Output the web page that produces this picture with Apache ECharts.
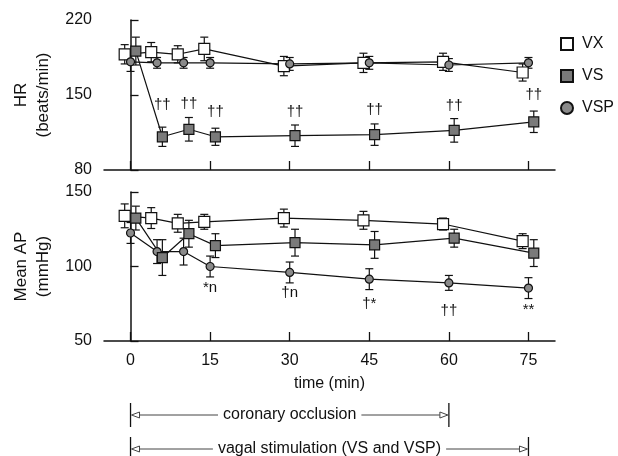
<!DOCTYPE html>
<html>
<head>
<meta charset="utf-8">
<script src="https://cdn.jsdelivr.net/npm/echarts@6/dist/echarts.min.js"></script>
<style>
html, body { margin: 0; padding: 0; background: #fff; }
#chart { width: 618px; height: 456px; }
</style>
</head>
<body>
<div id="chart"></div>
<script>
const times = [0, 5, 10, 15, 30, 45, 60, 75]
const xTicks = [0, 15, 30, 45, 60, 75]

// HR (beats/min), mean and error
const hrVX = [188, 190, 188, 193, 177, 180, 181, 171]
const hrVXErr = [9, 9, 8, 11, 9, 9, 8, 8]
const hrVS = [191, 111, 118, 111, 112, 113, 117, 125]
const hrVSErr = [13, 9, 11, 8, 10, 10, 11, 10]
const hrVSP = [181, 180, 180, 180, 179, 180, 178, 180]
const hrVSPErr = [9, 5, 5, 5, 6, 6, 6, 5]

// Mean AP (mmHg), mean and error
const apVX = [134, 132.5, 129, 130, 132.5, 131, 128.5, 117]
const apVXErr = [8, 7, 6, 5, 6, 6, 4, 5]
const apVS = [132.5, 106, 122, 114, 116, 114.5, 119, 109]
const apVSErr = [8, 12, 9, 8, 9, 9, 6, 9]
const apVSP = [122.5, 110, 110, 100, 96, 91.5, 89, 85.5]
const apVSPErr = [7, 8, 9, 7, 7, 7, 5, 7]

// significance marks
const hrMarkTimes = [5, 10, 15, 30, 45, 60, 75]
const hrMarkY = [141, 142, 134, 134, 136, 140, 150]
const hrMarks = ['††', '††', '††', '††', '††', '††', '††']
const apMarkTimes = [15, 30, 45, 60, 75]
const apMarkY = [86, 82, 75, 70, 71]
const apMarks = ['*n', '†n', '†*', '††', '**']

// protocol spans under the time axis
const spanStart = [0, 0]
const spanEnd = [60, 75]
const spanLabels = ['coronary occlusion', 'vagal stimulation (VS and VSP)']

const font = '"Liberation Sans", Arial, sans-serif'
const ink = '#111'
// small horizontal shift so the groups don't overlap (minutes)
const offVX = -1.1, offVS = 1, offVSP = 0

const measureCtx = document.createElement('canvas').getContext('2d')
measureCtx.font = '16px ' + font

function pts(vals, off) {
    return times.map((t, i) => [t + off, vals[i]])
}
function errs(vals, e, off) {
    return times.map((t, i) => [t + off, vals[i] - e[i], vals[i] + e[i]])
}

function errorSeries(data, gi) {
    return {
        type: 'custom', xAxisIndex: gi, yAxisIndex: gi, z: 1, silent: true,
        data: data,
        encode: {x: 0, y: [1, 2]},
        renderItem: function (params, api) {
            const lo = api.coord([api.value(0), api.value(1)])
            const hi = api.coord([api.value(0), api.value(2)])
            const w = 4
            const st = {stroke: ink, lineWidth: 1.2}
            return {type: 'group', children: [
                {type: 'line', shape: {x1: lo[0], y1: lo[1], x2: hi[0], y2: hi[1]}, style: st},
                {type: 'line', shape: {x1: lo[0] - w, y1: lo[1], x2: lo[0] + w, y2: lo[1]}, style: st},
                {type: 'line', shape: {x1: hi[0] - w, y1: hi[1], x2: hi[0] + w, y2: hi[1]}, style: st}
            ]}
        }
    }
}

function lineSeries(name, data, gi, symbol, size, fill) {
    return {
        type: 'line', name: name, xAxisIndex: gi, yAxisIndex: gi, z: 3,
        data: data,
        symbol: symbol, symbolSize: size, showAllSymbol: true,
        lineStyle: {color: ink, width: 1.2},
        itemStyle: {color: fill, borderColor: ink, borderWidth: 1.2},
        animation: false
    }
}

function markSeries(tt, ys, labels, off, gi) {
    return {
        type: 'custom', xAxisIndex: gi, yAxisIndex: gi, z: 5, silent: true, clip: false,
        data: tt.map((t, i) => [t + off, ys[i], i]),
        renderItem: function (params, api) {
            const p = api.coord([api.value(0), api.value(1)])
            return {type: 'text', x: p[0], y: p[1], style: {
                text: labels[api.value(2)], font: '15px ' + font, fill: ink,
                align: 'center', verticalAlign: 'middle'
            }}
        }
    }
}

const spanSeries = {
    type: 'custom', xAxisIndex: 1, yAxisIndex: 1, z: 5, silent: true, clip: false,
    data: spanStart.map((s, i) => [s, spanEnd[i], i]),
    renderItem: function (params, api) {
        const a = api.coord([api.value(0), 50])
        const b = api.coord([api.value(1), 50])
        const row = api.value(2)
        const y = a[1] + 74 + row * 34
        const text = spanLabels[row]
        const tw = measureCtx.measureText(text).width
        const mid = (a[0] + b[0]) / 2
        const t0 = mid - tw / 2 - 5, t1 = mid + tw / 2 + 5
        const st = {stroke: ink, lineWidth: 1.3}
        const ar = {stroke: '#444', lineWidth: 1}
        return {type: 'group', children: [
            {type: 'line', shape: {x1: a[0], y1: y - 12, x2: a[0], y2: y + 12}, style: st},
            {type: 'line', shape: {x1: b[0], y1: y - 12, x2: b[0], y2: y + 12}, style: st},
            {type: 'line', shape: {x1: a[0] + 9, y1: y, x2: t0, y2: y}, style: ar},
            {type: 'line', shape: {x1: t1, y1: y, x2: b[0] - 9, y2: y}, style: ar},
            {type: 'polygon', shape: {points: [[a[0] + 1, y], [a[0] + 9, y - 3], [a[0] + 9, y + 3]]}, style: {fill: '#fff', stroke: '#444', lineWidth: 1}},
            {type: 'polygon', shape: {points: [[b[0] - 1, y], [b[0] - 9, y - 3], [b[0] - 9, y + 3]]}, style: {fill: '#fff', stroke: '#444', lineWidth: 1}},
            {type: 'text', x: mid, y: y, style: {text: text, font: '16px ' + font, fill: ink, align: 'center', verticalAlign: 'middle'}}
        ]}
    }
}

const myChart = echarts.init(document.getElementById('chart'))

function xAxisFor(gi, withLabels) {
    return {
        type: 'value', gridIndex: gi, min: -5, max: 80,
        axisLine: {lineStyle: {color: ink, width: 1.5}},
        axisTick: {inside: true, length: 9, customValues: xTicks, lineStyle: {color: ink, width: 1.3}},
        axisLabel: withLabels
            ? {customValues: xTicks, fontSize: 16, fontFamily: font, color: ink, margin: 12}
            : {show: false},
        splitLine: {show: false},
        name: withLabels ? 'time (min)' : '',
        nameLocation: 'middle', nameGap: 35,
        nameTextStyle: {fontSize: 16, fontFamily: font, color: ink}
    }
}

function yAxisFor(gi, min, max, interval, name) {
    return {
        type: 'value', gridIndex: gi, min: min, max: max, interval: interval,
        axisLine: {show: true, lineStyle: {color: ink, width: 1.5}},
        axisTick: {show: true, inside: true, length: 8, lineStyle: {color: ink, width: 1.3}},
        axisLabel: {fontSize: 16, fontFamily: font, color: ink, margin: 12},
        splitLine: {show: false},
        name: name, nameLocation: 'middle', nameRotate: 90, nameGap: 50,
        nameTextStyle: {fontSize: 17, fontFamily: font, color: ink, lineHeight: 22}
    }
}

const option = {
    backgroundColor: '#fff',
    animation: false,
    grid: [
        {left: 104, top: 20, width: 451, height: 150},
        {left: 104, top: 192, width: 451, height: 149}
    ],
    xAxis: [xAxisFor(0, false), xAxisFor(1, true)],
    yAxis: [
        yAxisFor(0, 80, 220, 70, 'HR\n(beats/min)'),
        yAxisFor(1, 50, 150, 50, 'Mean AP\n(mmHg)')
    ],
    legend: {
        orient: 'vertical', left: 555, top: 31,
        itemWidth: 12, itemHeight: 12, itemGap: 16,
        textStyle: {fontSize: 16, fontFamily: font, color: ink, padding: [0, 0, 0, 4]},
        data: [
            {name: 'VX', icon: 'rect'},
            {name: 'VS', icon: 'rect'},
            {name: 'VSP', icon: 'circle'}
        ]
    },
    series: [
        errorSeries(errs(hrVX, hrVXErr, offVX), 0),
        errorSeries(errs(hrVSP, hrVSPErr, offVSP), 0),
        errorSeries(errs(hrVS, hrVSErr, offVS), 0),
        errorSeries(errs(apVX, apVXErr, offVX), 1),
        errorSeries(errs(apVSP, apVSPErr, offVSP), 1),
        errorSeries(errs(apVS, apVSErr, offVS), 1),
        lineSeries('VX', pts(hrVX, offVX), 0, 'rect', 11, '#fff'),
        lineSeries('VSP', pts(hrVSP, offVSP), 0, 'circle', 8, '#8a8a8a'),
        lineSeries('VS', pts(hrVS, offVS), 0, 'rect', 10, '#7a7a7a'),
        lineSeries('VX', pts(apVX, offVX), 1, 'rect', 11, '#fff'),
        lineSeries('VSP', pts(apVSP, offVSP), 1, 'circle', 8, '#8a8a8a'),
        lineSeries('VS', pts(apVS, offVS), 1, 'rect', 10, '#7a7a7a'),
        markSeries(hrMarkTimes, hrMarkY, hrMarks, offVS, 0),
        markSeries(apMarkTimes, apMarkY, apMarks, offVSP, 1),
        spanSeries
    ]
}

myChart.setOption(option)
</script>
</body>
</html>
